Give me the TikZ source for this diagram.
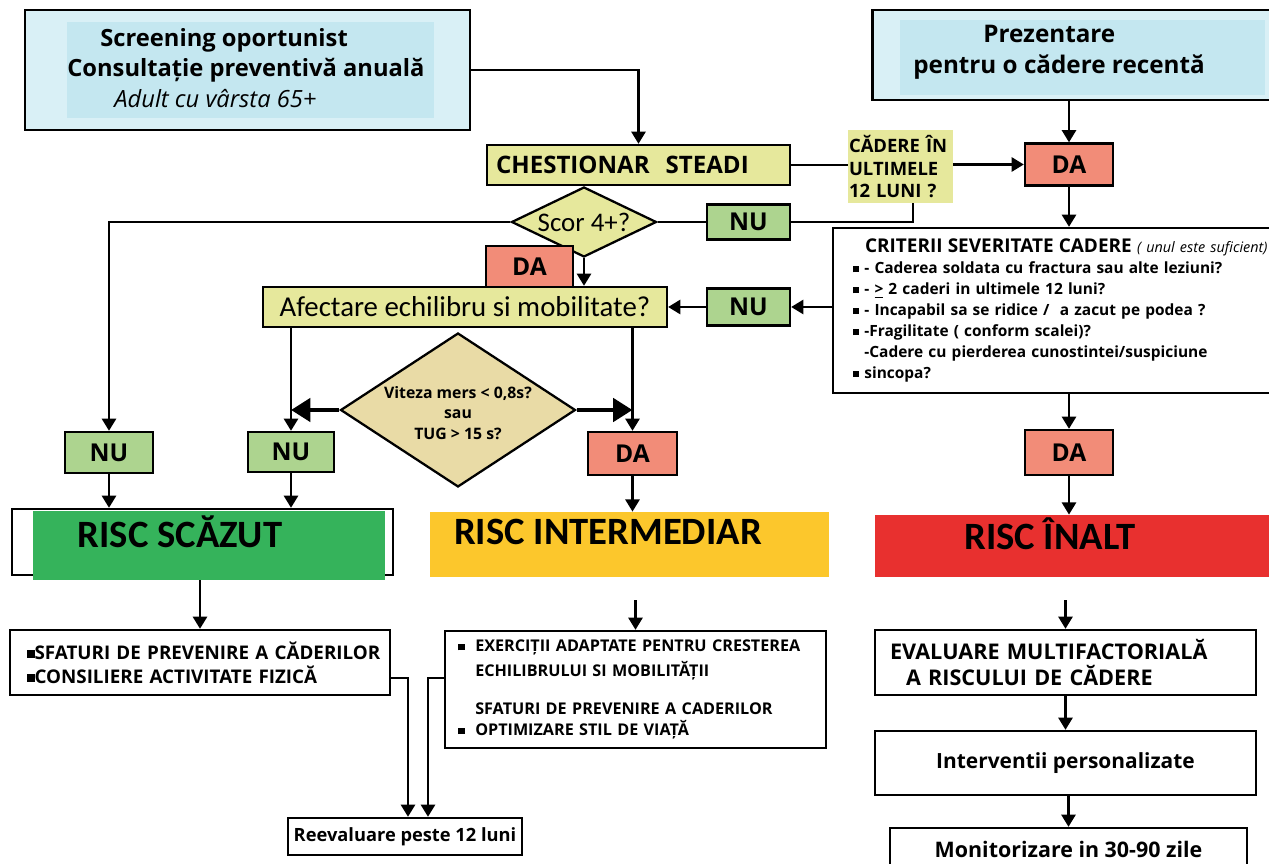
\documentclass[tikz,border=0pt]{standalone}
\usepackage{fontspec}
\setmainfont{Open Sans}
\newfontfamily\carl{Carlito}
\usetikzlibrary{arrows.meta,shapes.geometric}
\definecolor{bluein}{HTML}{C4E7F0}
\definecolor{blueout}{HTML}{D9F0F6}
\definecolor{khaki}{HTML}{E6E89C}
\definecolor{sand}{HTML}{E9DBA6}
\definecolor{salmon}{HTML}{F28C78}
\definecolor{leaf}{HTML}{ADD48F}
\definecolor{rlow}{HTML}{35B35B}
\definecolor{rmid}{HTML}{FCC72C}
\definecolor{rhigh}{HTML}{E8302F}
\newcommand\blt{\rule[0.15ex]{0.4em}{0.4em}}

\tikzset{
  frame/.style={draw=black,line width=1.3pt,inner sep=0pt},
  plain/.style={inner sep=0pt},
  yesbox/.style={frame,fill=salmon,minimum width=1.76cm,minimum height=0.84cm,font=\bfseries\fontsize{14}{16}\selectfont},
  nobox/.style={frame,fill=leaf,minimum width=1.7cm,minimum height=0.8cm,font=\bfseries\fontsize{14}{16}\selectfont},
  ask/.style={diamond,draw=black,line width=1.3pt,inner sep=0pt},
  risk/.style={plain,font=\carl\bfseries\fontsize{22}{24}\selectfont},
  line/.style={line width=1.6pt},
  arr/.style={line,-{Triangle[length=7pt,width=8pt]}},
  bigarr/.style={line width=2.8pt,-{Triangle[length=11pt,width=13pt]}}
}

\begin{document}
\begin{tikzpicture}[x=0.02cm,y=-0.02cm]
\useasboundingbox (0,0) rectangle (1269,864);
\fill[white] (0,0) rectangle (1269,864);

\node[frame,fill=blueout,minimum width=8.9cm,minimum height=2.4cm] (scr) at (247.5,70) {};
\node[plain,fill=bluein,minimum width=7.34cm,minimum height=1.92cm] (scrin) at (250.5,70) {};
\node[plain,anchor=west,align=left,font=\bfseries\fontsize{13.5}{17.3}\selectfont] (scrt) at (67,68)
  {\hspace{0.66cm}Screening oportunist\\Consultație preventivă anuală\\\hspace{0.94cm}{\mdseries\itshape Adult cu vârsta 65+}};

\node[frame,fill=blueout,minimum width=8.5cm,minimum height=1.8cm] (prez) at (1085,55) {};
\node[plain,fill=bluein,minimum width=7.3cm,minimum height=1.5cm] (prezin) at (1082.5,57.5) {};
\node[plain,anchor=west,align=left,font=\bfseries\fontsize{13.8}{17.6}\selectfont] (prezt) at (913,52)
  {\hspace{1.4cm}Prezentare\\pentru o cădere recentă};

\node[frame,fill=khaki,minimum width=6.06cm,minimum height=0.8cm,text width=5.7cm,align=left,
  font=\bfseries\fontsize{13.7}{15}\selectfont] (steadi) at (638.5,165) {CHESTIONAR\ \ STEADI};
\node[plain,fill=khaki,minimum width=2.1cm,minimum height=1.46cm,text width=2.06cm,align=left,
  font=\bfseries\fontsize{10.5}{12.8}\selectfont] (cad) at (900.5,166.5) {CĂDERE ÎN\\ULTIMELE\\12 LUNI ?};
\node[yesbox] (da1) at (1069,164.5) {DA};

\node[ask,fill=khaki,minimum width=2.9cm,minimum height=1.4cm] (scor) at (584,222) {};
\node[plain,font=\carl\fontsize{15.3}{17}\selectfont] (scort) at (scor) {Scor 4+?};
\node[nobox,minimum width=1.66cm,minimum height=0.7cm] (nu1) at (748.5,222) {NU};
\node[yesbox,minimum width=1.74cm,minimum height=0.82cm] (daS) at (529.5,266.5) {DA};

\node[frame,fill=khaki,minimum width=8.08cm,minimum height=0.8cm,font=\carl\fontsize{16.4}{18}\selectfont] (afe) at (465,307) {Afectare echilibru si mobilitate?};
\node[nobox,minimum width=1.66cm,minimum height=0.74cm] (nu2) at (748.5,307) {NU};

\node[frame,fill=white,minimum width=9.4cm,minimum height=3.3cm,text width=8.6cm,align=left,
  font=\bfseries\fontsize{8.8}{11.9}\selectfont] (crit) at (1068,310.5)
  {\hspace{0.24cm}{\fontsize{10.8}{11.9}\selectfont CRITERII SEVERITATE CADERE} {\mdseries\itshape\fontsize{8.2}{11.9}\selectfont ( unul este suficient)}\\
   \blt\ - Caderea soldata cu fractura sau alte leziuni?\\
   \blt\ - \underline{>} 2 caderi in ultimele 12 luni?\\
   \blt\ - Incapabil sa se ridice /\ \ a zacut pe podea ?\\
   \blt\ -Fragilitate ( conform scalei)?\\
   \hphantom{\blt}\ -Cadere cu pierderea cunostintei/suspiciune\\
   \blt\ sincopa?};

\node[ask,fill=sand,minimum width=4.7cm,minimum height=3.08cm] (vit) at (458,410) {};
\node[plain,align=center,font=\bfseries\fontsize{9}{11.6}\selectfont] (vitt) at (458,413) {Viteza mers < 0,8s?\\sau\\TUG > 15 s?};

\node[nobox,minimum width=1.76cm,minimum height=0.82cm] (nuA) at (109,452.5) {NU};
\node[nobox,minimum width=1.72cm,minimum height=0.8cm] (nuB) at (291,452) {NU};
\node[yesbox,minimum width=1.78cm,minimum height=0.86cm] (daB) at (632.5,453.5) {DA};
\node[yesbox,minimum width=1.76cm,minimum height=0.9cm] (daC) at (1069,452.5) {DA};

\node[frame,fill=white,minimum width=7.62cm,minimum height=1.32cm] (rl) at (202.5,542) {};
\node[plain,fill=rlow,minimum width=7.04cm,minimum height=1.38cm] (rlg) at (209,545.5) {};
\node[risk] (rlt) at (180,532) {RISC SCĂZUT};
\node[plain,fill=rmid,minimum width=7.98cm,minimum height=1.3cm] (ri) at (629.5,544.5) {};
\node[risk] (rit) at (608,532) {RISC INTERMEDIAR};
\node[plain,fill=rhigh,minimum width=8.1cm,minimum height=1.24cm] (rh) at (1077,546) {};
\node[risk] (rht) at (1050,534) {RISC ÎNALT};

\node[frame,fill=white,minimum width=7.6cm,minimum height=1.3cm,text width=7.5cm,align=left,
  font=\bfseries\fontsize{10.7}{13.6}\selectfont] (sf) at (200,662.5)
  {\hspace{0.29cm}\blt SFATURI DE PREVENIRE A CĂDERILOR\\\hspace{0.29cm}\blt CONSILIERE ACTIVITATE FIZICĂ};
\node[frame,fill=white,minimum width=7.62cm,minimum height=2.34cm,text width=7.1cm,align=left,
  font=\bfseries\fontsize{9.2}{14.2}\selectfont] (ex) at (635.5,689.5)
  {\blt\ \ EXERCIȚII ADAPTATE PENTRU CRESTEREA\\
   \hphantom{\blt\ \ }ECHILIBRULUI SI MOBILITĂȚII\\[7.4pt]
   \hphantom{\blt\ \ }SFATURI DE PREVENIRE A CADERILOR\\[-2.3pt]
   \blt\ \ OPTIMIZARE STIL DE VIAȚĂ};
\node[frame,fill=white,minimum width=7.62cm,minimum height=1.3cm,text width=7.02cm,align=left,
  font=\bfseries\fontsize{12.3}{15.3}\selectfont] (ev) at (1065.5,662.5)
  {EVALUARE MULTIFACTORIALĂ\\\hspace{0.32cm}A RISCULUI DE CĂDERE};
\node[frame,fill=white,minimum width=7.62cm,minimum height=1.28cm,font=\bfseries\fontsize{11.9}{13}\selectfont] (iv) at (1065.5,763) {\raisebox{0.1cm}{Interventii personalizate}};
\node[frame,fill=white,minimum width=7.14cm,minimum height=1.04cm,font=\bfseries\fontsize{12.2}{13}\selectfont] (mo) at (1068.5,854) {\raisebox{0.2cm}{Monitorizare in 30-90 zile}};
\node[frame,fill=white,minimum width=4.68cm,minimum height=0.74cm,font=\bfseries\fontsize{10.4}{12}\selectfont] (re) at (405,836.5) {Reevaluare peste 12 luni};

\draw[arr] (scr.east) -| (steadi.north);
\draw[line] (steadi.east) -- (steadi.east -| cad.west);
\draw[arr] (cad.east |- da1.west) -- (da1.west);
\draw[arr] (da1.north |- prez.south) -- (da1.north);
\draw[line] ([xshift=0.25cm]cad.south) |- (nu1.east);
\draw[line] (nu1.west) -- (scor.east);
\draw[arr] (scor.west) -| (nuA.north);
\draw[arr] (scor.south) -- (scor.south |- afe.north);
\draw[arr] (da1.south) -- (da1.south |- crit.north);
\draw[arr] (crit.west |- nu2.east) -- (nu2.east);
\draw[arr] (nu2.west) -- (afe.east);
\draw[arr] (afe.south -| nuB) -- (nuB.north);
\draw[arr] (afe.south -| daB) -- (daB.north);
\draw[bigarr] (vit.west) -- (vit.west -| nuB);
\draw[bigarr] (vit.east) -- (vit.east -| daB);
\draw[arr] (daC.north |- crit.south) -- (daC.north);
\draw[arr] (nuA.south) -- (nuA.south |- rl.north);
\draw[arr] (nuB.south) -- (nuB.south |- rl.north);
\draw[arr] (daB.south) -- (daB.south |- ri.north);
\draw[arr] (daC.south) -- (daC.south |- rh.north);
\draw[arr] (sf.north |- rlg.south) -- (sf.north);
\draw[arr,shorten <=0.46cm] (ex.north |- ri.south) -- (ex.north);
\draw[arr,shorten <=0.46cm] (ev.north |- rh.south) -- (ev.north);
\draw[arr] (ev.south) -- (iv.north);
\draw[arr] (mo.north |- iv.south) -- (mo.north);
\draw[arr] ([yshift=-0.31cm]sf.east) -| ([xshift=0.06cm]re.north);
\draw[arr] ([yshift=0.23cm]ex.west) -| ([xshift=0.46cm]re.north);
\end{tikzpicture}
\end{document}
